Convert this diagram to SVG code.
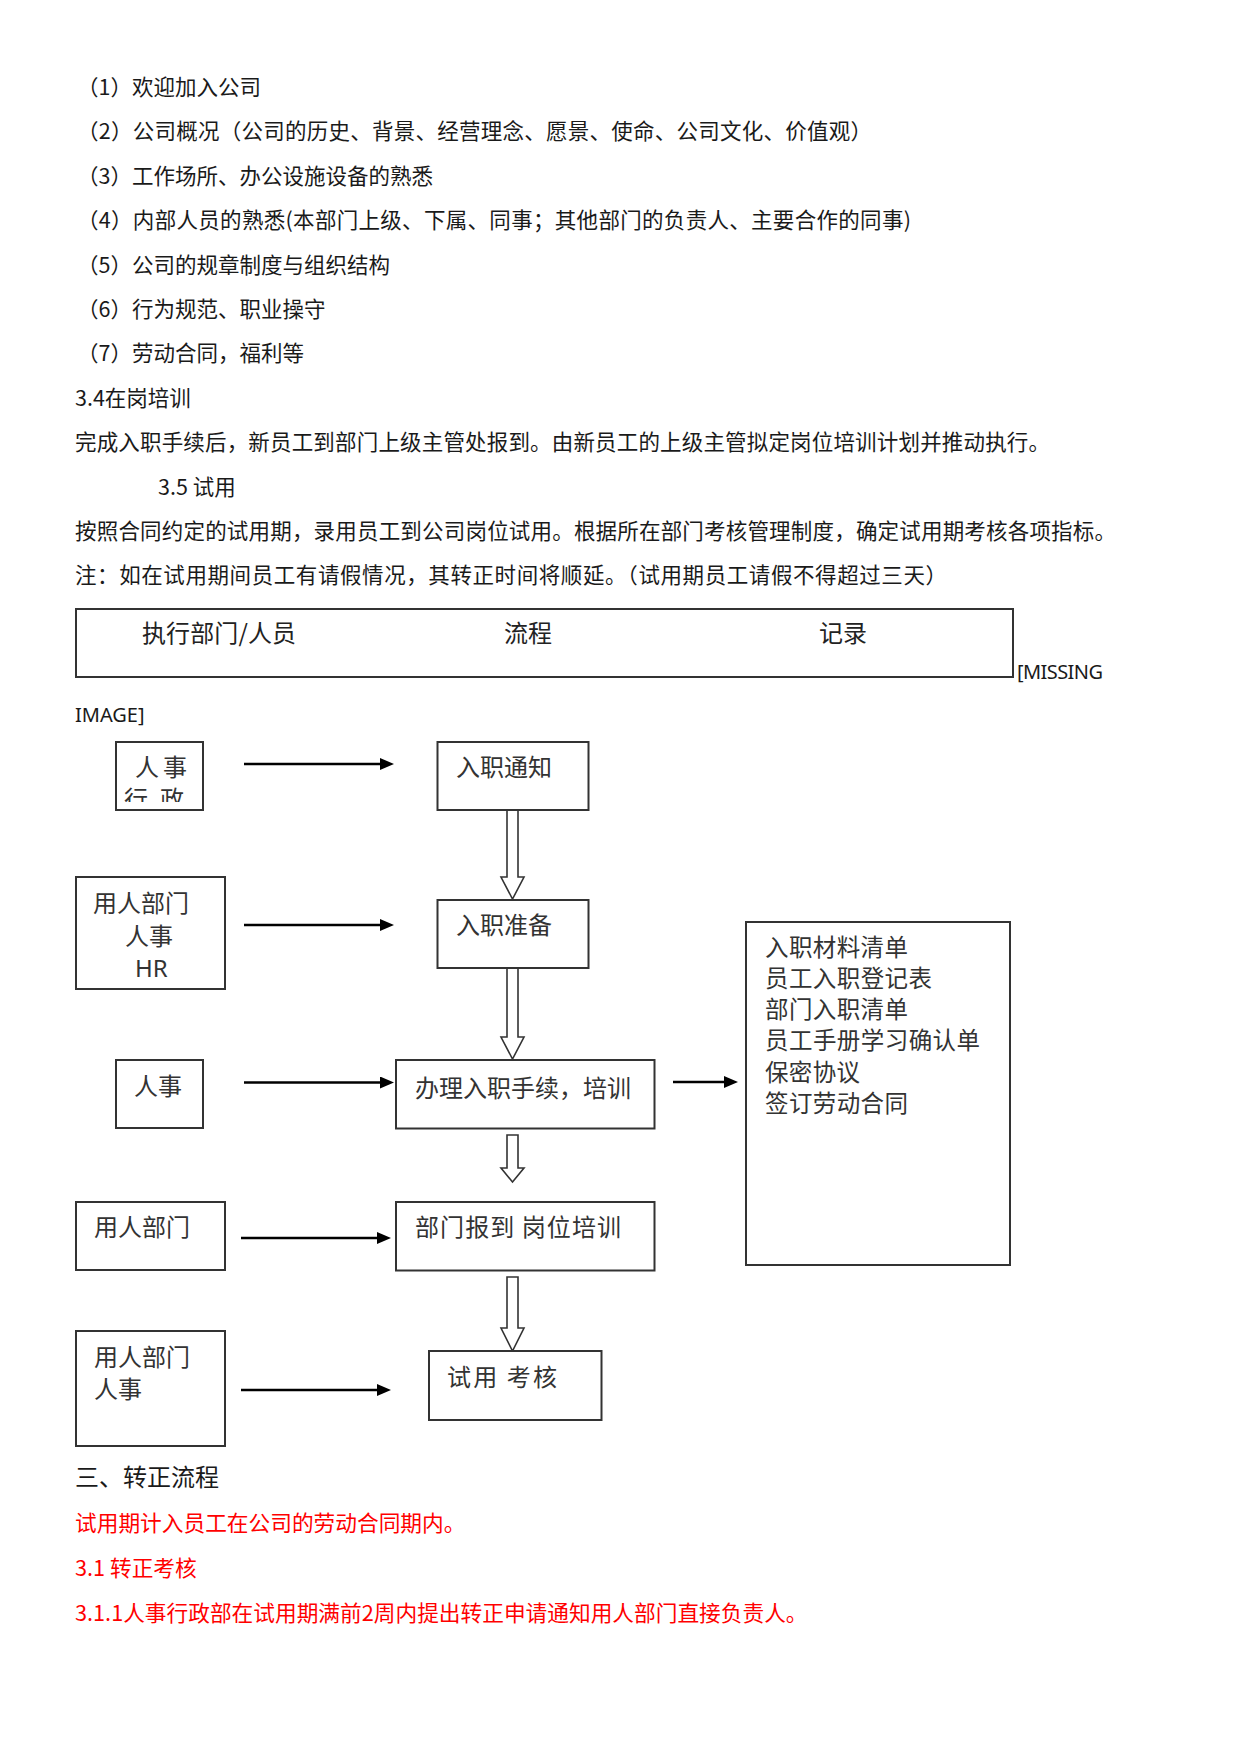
<svg xmlns="http://www.w3.org/2000/svg" width="1241" height="1755" viewBox="0 0 1241 1755">
<style>
  .body { font-family: "Noto Sans CJK SC", "Noto Sans", sans-serif; font-size: 21.5px; fill: #1a1a1a; }
  .red { font-family: "Noto Sans CJK SC", "Noto Sans", sans-serif; font-size: 21.7px; fill: #ff0000; }
  .hdr { font-family: "Noto Sans CJK SC", sans-serif; font-size: 24px; fill: #222; }
  .lat { font-family: "Noto Sans", "Liberation Sans", sans-serif; font-size: 20px; fill: #1a1a1a; }
  .nt { font-family: "Noto Sans CJK SC", sans-serif; font-size: 24px; fill: #333; }
  .rec { font-family: "Noto Sans CJK SC", sans-serif; font-size: 23.5px; fill: #333; }
  .box { fill: #fff; stroke: #333; stroke-width: 2; }
  .harrow { stroke: #000; stroke-width: 2.6; fill: none; }
  .block { fill: #fff; stroke: #333; stroke-width: 1.6; stroke-linejoin: miter; }
</style>
<defs>
  <marker id="ah" markerUnits="userSpaceOnUse" markerWidth="14" markerHeight="12" refX="2" refY="6" orient="auto">
    <path d="M0,0 L14,6 L0,12 Z" fill="#000"/>
  </marker>
  <clipPath id="clip1"><rect x="116" y="742" width="87" height="60"/></clipPath>
</defs>
<rect width="1241" height="1755" fill="#fff"/>

<g id="text-top">
  <text class="body" x="77" y="95">（1）欢迎加入公司</text>
  <text class="body" x="77" y="139.4" textLength="795">（2）公司概况（公司的历史、背景、经营理念、愿景、使命、公司文化、价值观）</text>
  <text class="body" x="77" y="183.8">（3）工作场所、办公设施设备的熟悉</text>
  <text class="body" x="77" y="228.2" textLength="834">（4）内部人员的熟悉(本部门上级、下属、同事；其他部门的负责人、主要合作的同事)</text>
  <text class="body" x="77" y="272.6">（5）公司的规章制度与组织结构</text>
  <text class="body" x="77" y="317">（6）行为规范、职业操守</text>
  <text class="body" x="77" y="361.4">（7）劳动合同，福利等</text>
  <text class="body" x="75" y="406">3.4在岗培训</text>
  <text class="body" x="75" y="450.2" textLength="975">完成入职手续后，新员工到部门上级主管处报到。由新员工的上级主管拟定岗位培训计划并推动执行。</text>
  <text class="body" x="158" y="494.6">3.5 试用</text>
  <text class="body" x="75" y="539" textLength="1041">按照合同约定的试用期，录用员工到公司岗位试用。根据所在部门考核管理制度，确定试用期考核各项指标。</text>
  <text class="body" x="75" y="583.4" textLength="872">注：如在试用期间员工有请假情况，其转正时间将顺延。（试用期员工请假不得超过三天）</text>
</g>

<g id="header">
  <rect class="box" x="76" y="609" width="937" height="68"/>
  <text class="hdr" x="142" y="642" textLength="154">执行部门/人员</text>
  <text class="hdr" x="504" y="642">流程</text>
  <text class="hdr" x="819" y="642">记录</text>
  <text class="lat" x="1017" y="679" textLength="86">[MISSING</text>
  <text class="lat" x="75" y="722">IMAGE]</text>
</g>

<g id="connectors">
  <line class="harrow" x1="244" y1="764" x2="382" y2="764" marker-end="url(#ah)"/>
  <line class="harrow" x1="244" y1="925" x2="382" y2="925" marker-end="url(#ah)"/>
  <line class="harrow" x1="244" y1="1082.5" x2="382" y2="1082.5" marker-end="url(#ah)"/>
  <line class="harrow" x1="673" y1="1082" x2="726" y2="1082" marker-end="url(#ah)"/>
  <line class="harrow" x1="241" y1="1238" x2="379" y2="1238" marker-end="url(#ah)"/>
  <line class="harrow" x1="241" y1="1390" x2="379" y2="1390" marker-end="url(#ah)"/>
  <path class="block" d="M507,810 L518,810 L518,877 L524,877 L512.5,899 L501,877 L507,877 Z"/>
  <path class="block" d="M507,968 L518,968 L518,1037 L524,1037 L512.5,1059 L501,1037 L507,1037 Z"/>
  <path class="block" d="M507,1135 L518,1135 L518,1168 L524,1168 L512.5,1182 L501,1168 L507,1168 Z"/>
  <path class="block" d="M507,1277 L518,1277 L518,1328 L524,1328 L512.5,1351 L501,1328 L507,1328 Z"/>
</g>

<g id="node-hr-admin">
  <rect class="box" x="116" y="742" width="87" height="68"/>
  <text class="nt" x="135" y="775.7" textLength="52">人事</text>
  <text class="nt" x="124" y="808" textLength="60" clip-path="url(#clip1)">行政</text>
</g>
<g id="node-dept-hr">
  <rect class="box" x="76" y="877" width="149" height="112"/>
  <text class="nt" x="93" y="912">用人部门</text>
  <text class="nt" x="125" y="944.7">人事</text>
  <text class="nt" x="135" y="976.6" style="font-family:'Noto Sans',sans-serif">HR</text>
</g>
<g id="node-hr">
  <rect class="box" x="116" y="1060" width="87" height="68"/>
  <text class="nt" x="134" y="1095">人事</text>
</g>
<g id="node-dept">
  <rect class="box" x="76" y="1202" width="149" height="68"/>
  <text class="nt" x="94" y="1235.7">用人部门</text>
</g>
<g id="node-dept-hr2">
  <rect class="box" x="76" y="1331" width="149" height="115"/>
  <text class="nt" x="94" y="1365.7">用人部门</text>
  <text class="nt" x="94" y="1398">人事</text>
</g>

<g id="node-notice">
  <rect class="box" x="437.5" y="742" width="151" height="68"/>
  <text class="nt" x="456" y="776">入职通知</text>
</g>
<g id="node-prepare">
  <rect class="box" x="437.5" y="900" width="151" height="68"/>
  <text class="nt" x="456" y="934">入职准备</text>
</g>
<g id="node-procedure">
  <rect class="box" x="396" y="1060" width="258.5" height="68.5"/>
  <text class="nt" x="415" y="1096.7">办理入职手续，培训</text>
</g>
<g id="node-report">
  <rect class="box" x="396" y="1202" width="258.5" height="68.5"/>
  <text class="nt" x="415" y="1235.7" textLength="206">部门报到 岗位培训</text>
</g>
<g id="node-trial">
  <rect class="box" x="429" y="1351" width="172.5" height="69"/>
  <text class="nt" x="447" y="1385.7" textLength="110">试用 考核</text>
</g>

<g id="node-records">
  <rect class="box" x="746" y="922" width="264" height="343"/>
  <text class="rec" x="765" y="955.7" textLength="143">入职材料清单</text>
  <text class="rec" x="765" y="987" textLength="167">员工入职登记表</text>
  <text class="rec" x="765" y="1018" textLength="143">部门入职清单</text>
  <text class="rec" x="765" y="1049" textLength="215">员工手册学习确认单</text>
  <text class="rec" x="765" y="1080.7" textLength="95">保密协议</text>
  <text class="rec" x="765" y="1112.3" textLength="143">签订劳动合同</text>
</g>

<g id="text-bottom">
  <text class="hdr" x="75" y="1485.7" style="fill:#1a1a1a">三、转正流程</text>
  <text class="red" x="75" y="1531">试用期计入员工在公司的劳动合同期内。</text>
  <text class="red" x="75" y="1576">3.1 转正考核</text>
  <text class="red" x="75" y="1621">3.1.1人事行政部在试用期满前2周内提出转正申请通知用人部门直接负责人。</text>
</g>
</svg>
